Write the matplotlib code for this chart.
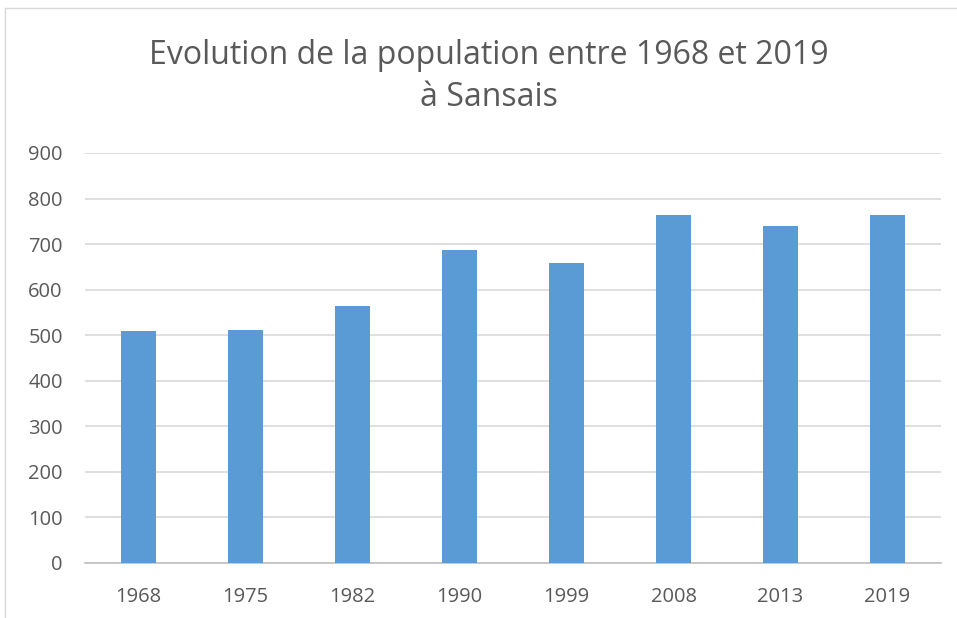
import matplotlib
matplotlib.use('Agg')
import matplotlib.pyplot as plt
import numpy as np
from matplotlib.lines import Line2D

# data
years = ['1968', '1975', '1982', '1990', '1999', '2008', '2013', '2019']
population = [509, 512, 565, 687, 659, 763, 740, 765]
yticks = [0, 100, 200, 300, 400, 500, 600, 700, 800, 900]

text_color = '#595959'
bar_color = '#5B9BD5'
grid_color = '#D9D9D9'

plt.rcParams['font.family'] = ['Open Sans', 'DejaVu Sans']

fig = plt.figure(figsize=(9.57, 6.18), dpi=100)
ax = fig.add_axes([85 / 957, 1 - 563 / 618, (941 - 85) / 957, (563 - 153) / 618])

x = np.arange(len(years))
ax.bar(x, population, width=0.32, color=bar_color, zorder=3)

ax.set_xlim(-0.5, len(years) - 0.5)
ax.set_ylim(0, 900)
ax.set_yticks(yticks)
ax.set_xticks(x)
ax.set_xticklabels(years)
ax.tick_params(axis='both', length=0, labelsize=14.5, colors=text_color)
ax.tick_params(axis='y', pad=16)
ax.tick_params(axis='x', pad=17)
ax.grid(axis='y', color=grid_color, linewidth=1.2, zorder=0)
for side in ['top', 'right', 'left']:
    ax.spines[side].set_visible(False)
ax.spines['bottom'].set_color('#BFBFBF')
ax.spines['bottom'].set_linewidth(1.2)

fig.text(489 / 957, 1 - 55 / 618, 'Evolution de la population entre 1968 et 2019',
         ha='center', va='center', fontsize=23, color=text_color)
fig.text(489 / 957, 1 - 97 / 618, 'à Sansais',
         ha='center', va='center', fontsize=23, color=text_color)

# chart frame (top and left edges visible)
fig.add_artist(Line2D([5 / 957, 1], [1 - 8 / 618] * 2, transform=fig.transFigure,
                      color='#D9D9D9', linewidth=1))
fig.add_artist(Line2D([5 / 957] * 2, [0, 1 - 8 / 618], transform=fig.transFigure,
                      color='#D9D9D9', linewidth=1))

fig.savefig('out.png', dpi=100)
